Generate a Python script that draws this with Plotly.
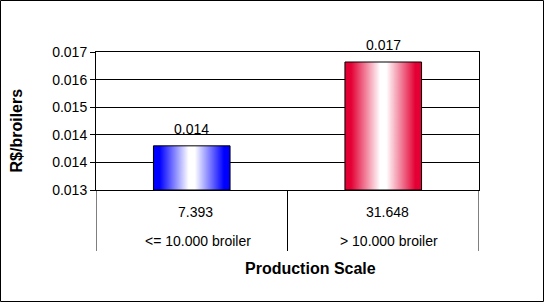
import plotly.graph_objects as go

# ---- data ----
categories = ["<= 10.000 broiler", "> 10.000 broiler"]
sub_values = ["7.393", "31.648"]
costs = [0.01408, 0.01651]
y_ticks = [0.0128, 0.0136, 0.0144, 0.0152, 0.0160, 0.0168]
y_title = "R$/broilers"
x_title = "Production Scale"

# ---- styles ----
bar_colors = ["rgb(0,0,255)", "rgb(228,0,52)"]
bar_half = 0.2
base = y_ticks[0]
font = "Arial, Liberation Sans, sans-serif"

fig = go.Figure()
for i, (v, c) in enumerate(zip(costs, bar_colors)):
    xs = [i - bar_half, i - bar_half, i + bar_half, i + bar_half, i - bar_half]
    ys = [base, v, v, base, base]
    fig.add_trace(go.Scatter(
        x=xs, y=ys, mode="lines", fill="toself",
        line=dict(color="black", width=1),
        fillgradient=dict(type="horizontal",
                          colorscale=[[0, c], [0.08, c], [0.46, "white"],
                                      [0.54, "white"], [0.92, c], [1, c]]),
        hoverinfo="skip", showlegend=False,
    ))
    fig.add_annotation(x=i, y=v, xref="x", yref="y", text=f"{v:.3f}",
                       showarrow=False, yanchor="bottom", yshift=7,
                       font=dict(family=font, size=14, color="black"))
    fig.add_annotation(x=i, y=-0.157, xref="x", yref="paper", text=sub_values[i],
                       showarrow=False, yanchor="middle", xshift=4,
                       font=dict(family=font, size=14, color="black"))
    fig.add_annotation(x=i, y=-0.37, xref="x", yref="paper", text=categories[i],
                       showarrow=False, yanchor="middle", xshift=6,
                       font=dict(family=font, size=14, color="black"))

# category dividers extending below plot
for xd in [-0.5, 0.5, 1.5]:
    fig.add_shape(type="line", xref="x", yref="paper", x0=xd, x1=xd,
                  y0=0, y1=-0.442, line=dict(color="black", width=1))

# axis titles
fig.add_annotation(x=-0.2076, y=0.435, xref="paper", yref="paper", text=f"<b>{y_title}</b>",
                   textangle=-90, showarrow=False, xanchor="center", yanchor="middle",
                   font=dict(family=font, size=16, color="black"))
fig.add_annotation(x=0.559, y=-0.572, xref="paper", yref="paper", text=f"<b>{x_title}</b>",
                   showarrow=False, xanchor="center", yanchor="middle",
                   font=dict(family=font, size=16, color="black"))

# outer border
W, H = 544, 302
ml, mr, mt, mb = 96, 65, 52, 112
pw, ph = W - ml - mr, H - mt - mb
fig.add_shape(type="rect", xref="paper", yref="paper",
              x0=(0.5 - ml) / pw, x1=(W - 0.5 - ml) / pw,
              y0=(ph - (H - mt - 0.5)) / ph, y1=(ph + mt - 0.5) / ph,
              line=dict(color="black", width=1))

fig.update_layout(
    width=W, height=H,
    margin=dict(l=ml, r=mr, t=mt, b=mb),
    paper_bgcolor="white", plot_bgcolor="white",
    xaxis=dict(range=[-0.5, 1.5], showticklabels=False, showgrid=False,
               zeroline=False, showline=True, linecolor="black", linewidth=1,
               mirror=True, ticks=""),
    yaxis=dict(range=[y_ticks[0], y_ticks[-1]], tickvals=y_ticks, tickformat=".3f",
               showgrid=True, gridcolor="black", gridwidth=1, zeroline=False,
               showline=True, linecolor="black", linewidth=1, mirror=True,
               ticks="outside", ticklen=5, tickcolor="black",
               tickfont=dict(family=font, size=14, color="black")),
)
fig.write_html("out.html")
